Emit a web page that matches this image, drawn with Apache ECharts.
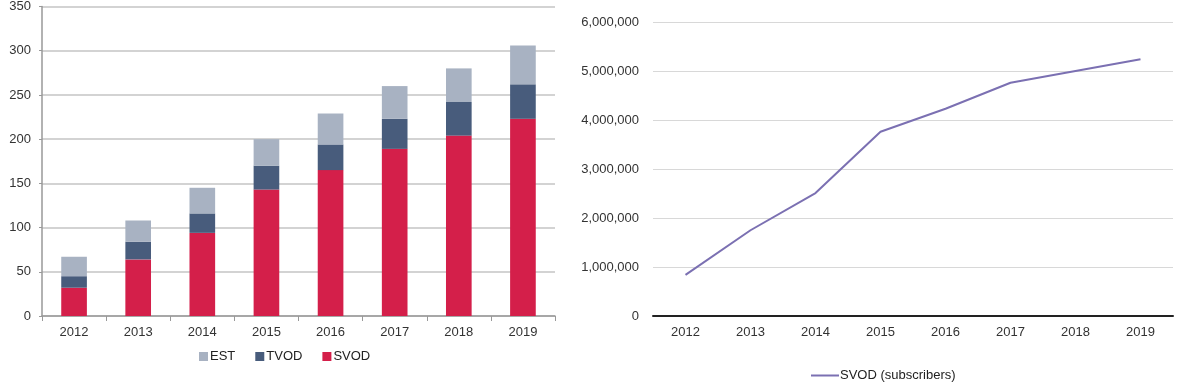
<!DOCTYPE html>
<html>
<head>
<meta charset="utf-8">
<script src="https://cdn.jsdelivr.net/npm/echarts@6/dist/echarts.min.js"></script>
<style>
html,body{margin:0;padding:0;background:#fff}
#chart{width:1186px;height:389px}
</style>
</head>
<body>
<div id="chart"></div>
<script>
// categories and values
let years = ['2012','2013','2014','2015','2016','2017','2018','2019']
let svod = [32, 64, 94, 143, 165, 189, 204, 223]
let tvod = [13, 20, 22, 27, 29, 34, 38, 39]
let est = [22, 24, 29, 30, 35, 37, 38, 44]
let subscribers = [840000, 1750000, 2510000, 3760000, 4230000, 4760000, 5000000, 5240000]

let labelFont = { color: '#333', fontSize: 13, fontFamily: 'Liberation Sans' }

let chart = echarts.init(document.getElementById('chart'))
let option = {
  backgroundColor: '#fff',
  animation: false,
  legend: [{
    data: ['EST', 'TVOD', 'SVOD'],
    left: 194,
    top: 345,
    itemWidth: 9,
    itemHeight: 9,
    itemGap: 20,
    icon: 'rect',
    textStyle: { color: '#222', fontSize: 13, fontFamily: 'Liberation Sans', padding: [0, 0, 0, -3] }
  }, {
    data: ['SVOD (subscribers)'],
    left: 806,
    top: 364,
    itemWidth: 28,
    itemHeight: 2,
    icon: 'rect',
    textStyle: { color: '#222', fontSize: 13, fontFamily: 'Liberation Sans', padding: [0, 0, 0, -4] }
  }],
  grid: [
    { left: 42, right: 631, top: 6, bottom: 73 },
    { left: 653, right: 13, top: 22, bottom: 73 }
  ],
  xAxis: [{
    type: 'category',
    gridIndex: 0,
    data: years,
    axisLine: { lineStyle: { color: '#999', width: 1.5 } },
    axisTick: { show: true, length: 5, lineStyle: { color: '#999' } },
    axisLabel: Object.assign({ margin: 10 }, labelFont)
  }, {
    type: 'category',
    gridIndex: 1,
    data: years,
    axisLine: { lineStyle: { color: '#222', width: 2 } },
    axisTick: { show: false },
    axisLabel: Object.assign({ margin: 10 }, labelFont)
  }],
  yAxis: [{
    type: 'value',
    gridIndex: 0,
    min: 0,
    max: 350,
    interval: 50,
    axisLine: { show: true, lineStyle: { color: '#999', width: 1.5 } },
    axisTick: { show: true, length: 3, lineStyle: { color: '#999' } },
    axisLabel: Object.assign({ margin: 11 }, labelFont),
    splitLine: { lineStyle: { color: '#c4c4c4', width: 1.5 } }
  }, {
    type: 'value',
    gridIndex: 1,
    min: 0,
    max: 6000000,
    interval: 1000000,
    axisLine: { show: false },
    axisTick: { show: false },
    axisLabel: Object.assign({
      margin: 14,
      formatter: function (v) { return v.toLocaleString('en-US') }
    }, labelFont),
    splitLine: { lineStyle: { color: '#d8d8d8', width: 1 } }
  }],
  series: [{
    name: 'SVOD',
    type: 'bar',
    stack: 'vod',
    xAxisIndex: 0,
    yAxisIndex: 0,
    barWidth: '40%',
    data: svod,
    itemStyle: { color: '#d41f4a' }
  }, {
    name: 'TVOD',
    type: 'bar',
    stack: 'vod',
    xAxisIndex: 0,
    yAxisIndex: 0,
    barWidth: '40%',
    data: tvod,
    itemStyle: { color: '#485c7c' }
  }, {
    name: 'EST',
    type: 'bar',
    stack: 'vod',
    xAxisIndex: 0,
    yAxisIndex: 0,
    barWidth: '40%',
    data: est,
    itemStyle: { color: '#a8b2c2' }
  }, {
    name: 'SVOD (subscribers)',
    type: 'line',
    xAxisIndex: 1,
    yAxisIndex: 1,
    data: subscribers,
    symbol: 'none',
    lineStyle: { color: '#7b70b2', width: 2 },
    itemStyle: { color: '#7b70b2' }
  }]
}
chart.setOption(option)
</script>
</body>
</html>
